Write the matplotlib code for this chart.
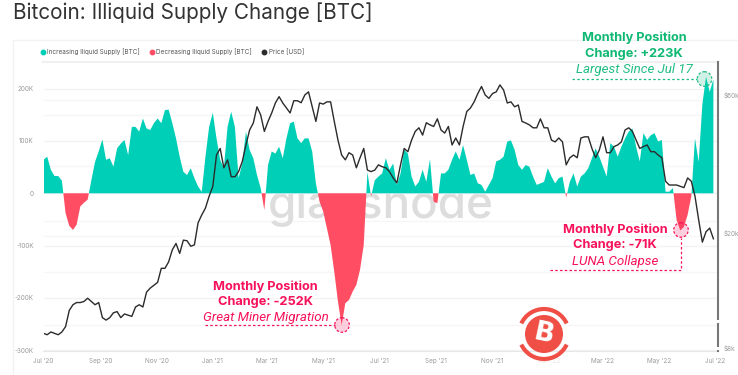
import numpy as np
import pandas as pd
import matplotlib
matplotlib.use('Agg')
import matplotlib.pyplot as plt
import matplotlib.dates as mdates
from matplotlib.lines import Line2D
from matplotlib.patches import Circle, Arc, Rectangle
from matplotlib.ticker import NullFormatter

plt.rcParams['font.family'] = ['Inter', 'DejaVu Sans']

# illiquid supply change, thousands of BTC, one value per 4 days from 1 Jul 2020
supply_k = [
    64, 70, 45, 33, 33, 24, -38, -62, -70, -60,
    -25, -18, -12, 25, 60, 80, 103, 64, 67, 51,
    86, 95, 102, 73, 127, 127, 118, 143, 124, 121,
    134, 143, 134, 159, 160, 134, 105, 70, 41, 35,
    48, 29, 13, 3, 70, 127, 154, 105, 64, 48,
    127, 156, 127, 29, 57, 118, 83, 67, 35, 10,
    -32, 54, 80, 76, 89, 67, 105, 134, 137, 105,
    96, 105, 105, 80, 19, -16, -35, -67, -99, -150,
    -207, -252, -210, -204, -188, -175, -146, -99, 41, -6,
    25, 32, 38, 67, 45, 57, 16, 38, 83, 76,
    32, 13, 22, 45, 22, 65, -16, -19, 38, 38,
    45, 64, 80, 64, 92, 64, 35, 38, 19, 16,
    3, 16, 29, 61, 64, 70, 99, 101, 83, 54,
    45, 54, 51, 32, 16, 19, 22, 48, 32, 19,
    29, 32, -8, 22, 38, 13, 32, 38, 48, 67,
    86, 70, 51, 32, 96, 89, 70, 89, 105, 118,
    124, 89, 61, 115, 102, 111, 115, 99, 102, 3,
    3, 10, -51, -71, -64, -41, -6, 105, 60, 170,
    223, 194, 218,
]

# BTC price, thousands of USD, same dates
price_k = [
    9.0, 8.9, 9.1, 9.0, 8.9, 9.1, 9.5, 10.8, 11.3, 11.5,
    11.5, 11.6, 11.9, 11.6, 11.3, 11.5, 10.2, 10.0, 10.2, 10.6,
    10.7, 10.2, 10.5, 10.4, 10.3, 11.1, 11.3, 11.1, 12.5, 12.9,
    13.2, 13.5, 15.1, 15.1, 15.9, 17.5, 18.4, 17.0, 18.9, 18.8,
    18.0, 18.2, 21.7, 23.1, 24.4, 26.8, 29.0, 37.2, 39.2, 33.6,
    35.8, 31.3, 31.3, 32.6, 35.3, 40.3, 45.4, 48.0, 54.6, 51.2,
    44.9, 48.6, 52.0, 56.3, 59.2, 56.3, 54.1, 52.0, 57.3, 57.3,
    56.4, 60.0, 61.5, 54.6, 48.6, 56.3, 55.8, 56.8, 56.8, 48.6,
    41.9, 37.2, 35.8, 37.9, 37.2, 33.6, 36.4, 39.2, 33.0, 32.6,
    33.0, 34.4, 33.9, 33.6, 32.6, 31.0, 29.8, 34.4, 39.2, 38.2,
    41.9, 44.9, 46.2, 43.6, 48.1, 47.3, 46.7, 49.6, 45.4, 44.3,
    46.7, 40.3, 42.6, 40.3, 46.7, 52.6, 54.1, 56.8, 60.7, 64.2,
    60.0, 58.4, 60.7, 61.5, 65.0, 62.4, 56.3, 56.8, 54.6, 55.4,
    48.6, 48.0, 47.3, 46.2, 46.2, 49.6, 46.2, 46.2, 41.9, 41.3,
    42.6, 41.3, 34.4, 36.4, 37.2, 36.4, 42.6, 43.0, 43.0, 39.2,
    36.4, 38.7, 43.0, 37.9, 37.9, 39.8, 40.3, 41.3, 45.4, 46.2,
    44.9, 41.9, 39.2, 39.8, 40.3, 38.2, 38.2, 37.2, 36.4, 30.2,
    29.3, 29.3, 29.3, 29.0, 28.7, 31.0, 30.2, 26.8, 22.2, 18.6,
    20.2, 20.8, 19.1,
]

left_ticks = [-300, -200, -100, 0, 100, 200]
left_labels = ['-300K', '-200K', '-100K', '0', '100K', '200K']
right_ticks = [8000, 20000, 60000]
right_labels = ['$8k', '$20k', '$60k']
extra_grid = [9600, 14700, 19500, 22000, 34000, 51000, 57600]
month_ticks = ['2020-07-01', '2020-09-01', '2020-11-01', '2021-01-01', '2021-03-01', '2021-05-01', '2021-07-01',
               '2021-09-01', '2021-11-01', '2022-01-01', '2022-03-01', '2022-05-01', '2022-07-01']

TEAL = '#00cfb8'
RED = '#ff4d64'
DARK = '#2b2b2b'
GREEN_T = '#0fb873'
PINK_T = '#f7125c'
W, H = 738, 375

dates = pd.date_range('2020-07-01', periods=len(supply_k), freq='4D')
supply = np.array(supply_k, dtype=float)
price = np.array(price_k) * 1000
x_num = mdates.date2num(dates)

fig = plt.figure(figsize=(W / 100, H / 100), dpi=100, facecolor='white')
ax = fig.add_axes([43.5 / W, 1 - 351 / H, (718 - 43.5) / W, (351 - 62) / H], zorder=2)
ax.patch.set_alpha(0)

ax.fill_between(x_num, 0, supply, where=supply >= 0, interpolate=True, color=TEAL, lw=0, zorder=2)
ax.fill_between(x_num, 0, supply, where=supply <= 0, interpolate=True, color=RED, lw=0, zorder=2)

ax.set_ylim(-301.5, 251)
start = mdates.date2num(pd.Timestamp('2020-07-01'))
ax.set_xlim(start, start + 733)
ax.set_yticks(left_ticks)
ax.set_yticklabels(left_labels)
ax.set_xticks(mdates.date2num(pd.to_datetime(month_ticks)))
ax.xaxis.set_major_formatter(mdates.DateFormatter("%b '%y"))
ax.tick_params(axis='both', length=0, labelsize=4.6, labelcolor='#9a9a9a')
ax.tick_params(axis='x', pad=5)
ax.tick_params(axis='y', pad=7)
ax.grid(axis='y', color='#f3f3f3', lw=1)
ax.set_axisbelow(True)
for s in ['left', 'right']:
    ax.spines[s].set_visible(False)
ax.spines['top'].set_color('#f0f0f0')
ax.spines['top'].set_linewidth(1.5)
ax.spines['bottom'].set_color('#e6e6e6')

# extra price gridlines sit under the bars
ax_grid = ax.twinx()
ax_grid.set_zorder(1)
ax_grid.set_yscale('log')
ax_grid.set_ylim(7820, 78000)
ax_grid.set_yticks(extra_grid)
ax_grid.yaxis.set_major_formatter(NullFormatter())
ax_grid.yaxis.set_minor_formatter(NullFormatter())
ax_grid.tick_params(axis='y', which='both', length=0)
ax_grid.grid(axis='y', color='#f6f6f6', lw=1)
for s in ax_grid.spines.values():
    s.set_visible(False)

ax2 = ax.twinx()
ax2.set_zorder(3)
ax2.plot(x_num, price, color=DARK, lw=1.0, zorder=3)
ax2.set_yscale('log')
ax2.set_ylim(7820, 78000)
ax2.set_yticks(right_ticks)
ax2.set_yticklabels(right_labels)
ax2.yaxis.set_minor_formatter(NullFormatter())
ax2.tick_params(axis='y', which='both', length=0, labelsize=4.6, labelcolor='#9a9a9a', pad=4)
for s in ['left', 'top', 'bottom']:
    ax2.spines[s].set_visible(False)
ax2.spines['right'].set_color('#777777')
ax2.spines['right'].set_linewidth(1.5)
ax2.patch.set_alpha(0)

ax.text(381 / W, 1 - 218 / H, 'glassnode', transform=fig.transFigure, fontsize=33, color='#dddddd',
        ha='center', va='baseline', zorder=0.5, fontweight='medium')

handles = [Line2D([], [], ls='', marker='o', ms=3.2, color=TEAL),
           Line2D([], [], ls='', marker='o', ms=3.2, color=RED),
           Line2D([], [], ls='', marker='o', ms=3.2, color=DARK)]
names = ['Increasing Iliquid Supply [BTC]', 'Decreasing Iliquid Supply [BTC]', 'Price [USD]']
fig.legend(handles, names, ncols=3, loc='center left', bbox_to_anchor=(33 / W, 1 - 51.5 / H), frameon=False,
           fontsize=4.6, labelcolor='#555555', handletextpad=0.1, columnspacing=1.3, handlelength=1.2)

# overlay in pixel coordinates for the page furniture and the callouts
over = fig.add_axes([0, 0, 1, 1], zorder=5)
over.set_xlim(0, W)
over.set_ylim(H, 0)
over.axis('off')
over.patch.set_alpha(0)

over.text(13, 13, 'Bitcoin: Illiquid Supply Change [BTC]', fontsize=14.9, color='#333333', va='center', ha='left')
over.plot([12.5, 738], [40, 40], color='#f2f2f2', lw=1)
over.plot([12.5, 12.5], [40, 375], color='#f2f2f2', lw=1)


def callout(cx, y1, y2, y3, head1, head2, note, col, note_col):
    over.text(cx, y1, head1, color=col, fontsize=9.2, fontweight='bold', ha='center', va='center')
    over.text(cx, y2, head2, color=col, fontsize=9.2, fontweight='bold', ha='center', va='center')
    over.text(cx, y3, note, color=note_col, fontsize=9.6, style='italic', family=['Roboto'], ha='center', va='center')


def marker(x, y, col):
    over.add_patch(Circle((x, y), 7.3, fc=col, alpha=0.2, ec='none'))
    over.add_patch(Circle((x, y), 7.3, fc='none', ec=col, lw=0.9, ls=(0, (2, 1.5))))


callout(634, 38, 54, 69, 'Monthly Position', 'Change: +223K', 'Largest Since Jul 17', GREEN_T, '#22bd85')
over.plot([572, 697], [79, 79], color='#22bd85', lw=0.9, ls=(0, (2, 1.8)))
marker(704.5, 79, '#22bd85')

callout(265.5, 287, 302, 317.5, 'Monthly Position', 'Change: -252K', 'Great Miner Migration', PINK_T, PINK_T)
over.plot([205, 335], [325, 325], color=PINK_T, lw=0.9, ls=(0, (2, 1.8)))
marker(342, 325, PINK_T)

callout(615, 230, 245, 261, 'Monthly Position', 'Change: -71K', 'LUNA Collapse', PINK_T, PINK_T)
over.plot([550, 681, 681], [270, 270, 238], color=PINK_T, lw=0.9, ls=(0, (2, 1.8)))
marker(681, 230, PINK_T)

# red coin logo stamped over the axis, with its white halo breaking the right spine
LOGO = '#ef4f45'
over.add_patch(Rectangle((517, 352), 56, 14, fc='white', ec='none', alpha=0.75))
over.add_patch(Rectangle((716, 320), 4, 3, fc='white', ec='none'))
over.add_patch(Rectangle((716, 347), 4, 3, fc='white', ec='none'))
over.add_patch(Circle((544, 334), 19, fc=LOGO, ec='none'))
over.add_patch(Arc((544, 334), 50, 50, theta1=205, theta2=335, color=LOGO, lw=3))
over.add_patch(Arc((544, 334), 50, 50, theta1=25, theta2=155, color=LOGO, lw=3))
over.text(544, 334, 'B', color='white', fontsize=19, fontweight='bold', family=['DejaVu Sans'], ha='center',
          va='center', rotation=-12)

fig.savefig('out.png', dpi=100)
